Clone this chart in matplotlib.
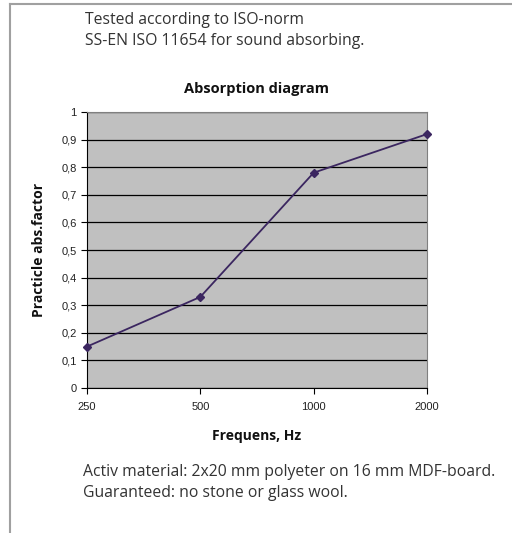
import matplotlib.pyplot as plt
from matplotlib.lines import Line2D

# data
freqs = ['250', '500', '1000', '2000']
absorption = [0.15, 0.33, 0.78, 0.92]
yticks = [0, 0.1, 0.2, 0.3, 0.4, 0.5, 0.6, 0.7, 0.8, 0.9, 1]
ytick_labels = ['0', '0,1', '0,2', '0,3', '0,4', '0,5', '0,6', '0,7', '0,8', '0,9', '1']

fig = plt.figure(figsize=(5.12, 5.33), dpi=100)
ax = fig.add_axes([87 / 512, 145 / 533, 340 / 512, 276 / 533])

ax.set_facecolor('#c0c0c0')
ax.plot(range(len(freqs)), absorption, color='#3b2660', lw=1.3,
        marker='D', markersize=4.5, clip_on=False, zorder=5)

ax.set_xlim(0, len(freqs) - 1)
ax.set_ylim(0, 1)
ax.set_xticks(range(len(freqs)))
ax.set_xticklabels(freqs)
ax.set_yticks(yticks)
ax.set_yticklabels(ytick_labels)
ax.tick_params(labelsize=8, length=4, width=0.8, direction='out')
ax.tick_params(axis='x', pad=6)
for lab in ax.get_xticklabels() + ax.get_yticklabels():
    lab.set_family('Liberation Sans')
    lab.set_color('#222222')

ax.yaxis.grid(True, color='black', lw=0.9)
ax.set_axisbelow(True)
for s in ['top', 'right']:
    ax.spines[s].set_color('#808080')
for s in ['left', 'bottom']:
    ax.spines[s].set_color('black')

ax.set_title('Absorption diagram', fontsize=10.5, fontweight='bold',
             family='Open Sans', pad=14, color='#111111')
ax.set_xlabel('Frequens, Hz', fontsize=10, fontweight='bold',
              family='Open Sans', labelpad=12, color='#111111')
ax.set_ylabel('Practicle abs.factor', fontsize=10, fontweight='bold',
              family='Open Sans', labelpad=11, color='#111111')

# texts above and below the chart
txt = dict(fontsize=11.3, family='Open Sans', color='#333333', va='top')
fig.text(85 / 512, 1 - 12 / 533, 'Tested according to ISO-norm\nSS-EN ISO 11654 for sound absorbing.',
         linespacing=1.45, **txt)
fig.text(83 / 512, 1 - 464 / 533, 'Activ material: 2x20 mm polyeter on 16 mm MDF-board.\nGuaranteed: no stone or glass wool.',
         linespacing=1.4, **txt)

# page frame lines
fig.add_artist(Line2D([10 / 512, 10 / 512], [0, 1 - 4 / 533], color='#a0a0a0', lw=1.5))
fig.add_artist(Line2D([10 / 512, 1], [1 - 4 / 533, 1 - 4 / 533], color='#a0a0a0', lw=1.5))

fig.savefig('out.png', dpi=100)
